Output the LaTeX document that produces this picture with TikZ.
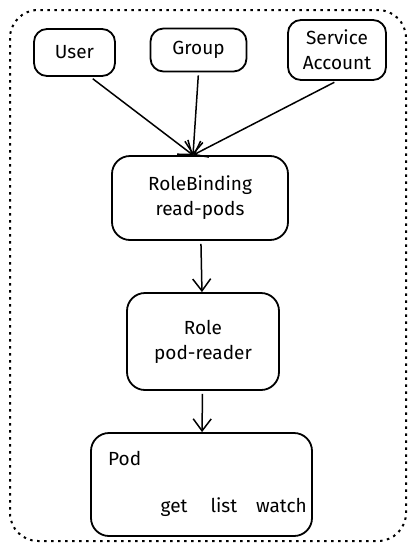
\documentclass[tikz,border=0pt]{standalone}
\usepackage{fontspec}
\setmainfont{Fira Sans}
\usetikzlibrary{arrows.meta}

\begin{document}
\begin{tikzpicture}
  [x=1pt,y=-1pt,
   every node/.style={draw,line width=1.8pt,rounded corners=13pt,align=center,
     font=\fontsize{19}{25}\selectfont},
   label text/.style={draw=none},
   arr/.style={-{Straight Barb[length=12pt,width=18pt]},line width=1.5pt,shorten <=3pt}]
  \useasboundingbox (0,0) rectangle (416,552);
  \draw[line width=2pt,dash pattern=on 2.5pt off 4.5pt,rounded corners=28pt] (10,10) rectangle (406,541);

  \node[minimum width=81pt,minimum height=47pt] (user) at (74.5,52.5) {User};
  \node[minimum width=96pt,minimum height=43pt] (group) at (198.5,50) {Group};
  \node[minimum width=98pt,minimum height=60pt] (sa) at (337,50) {Service\\Account};
  \node[minimum width=176pt,minimum height=84pt,rounded corners=18pt] (rb) at (200,198) {RoleBinding\\read-pods};
  \node[minimum width=152pt,minimum height=97pt,rounded corners=18pt] (role) at (203,341.5) {Role\\pod-reader};
  \node[minimum width=221pt,minimum height=103pt,rounded corners=18pt] (pod) at (201.5,484.5) {};
  \node[label text,anchor=west] (podname) at (104,458) {Pod};
  \node[label text,anchor=east] (verbs) at (311,507) {get\hspace{18pt} list\hspace{14pt} watch};

  \coordinate (hub) at ([xshift=-7pt]rb.north);

    \draw[arr] (user.-57) -- (hub);
    \draw[arr] (group.south) -- (hub);
    \draw[arr] (sa.south) -- (hub);
    \draw[arr] (rb) -- (role);
    \draw[arr] (role) -- (pod);

\end{tikzpicture}
\end{document}
